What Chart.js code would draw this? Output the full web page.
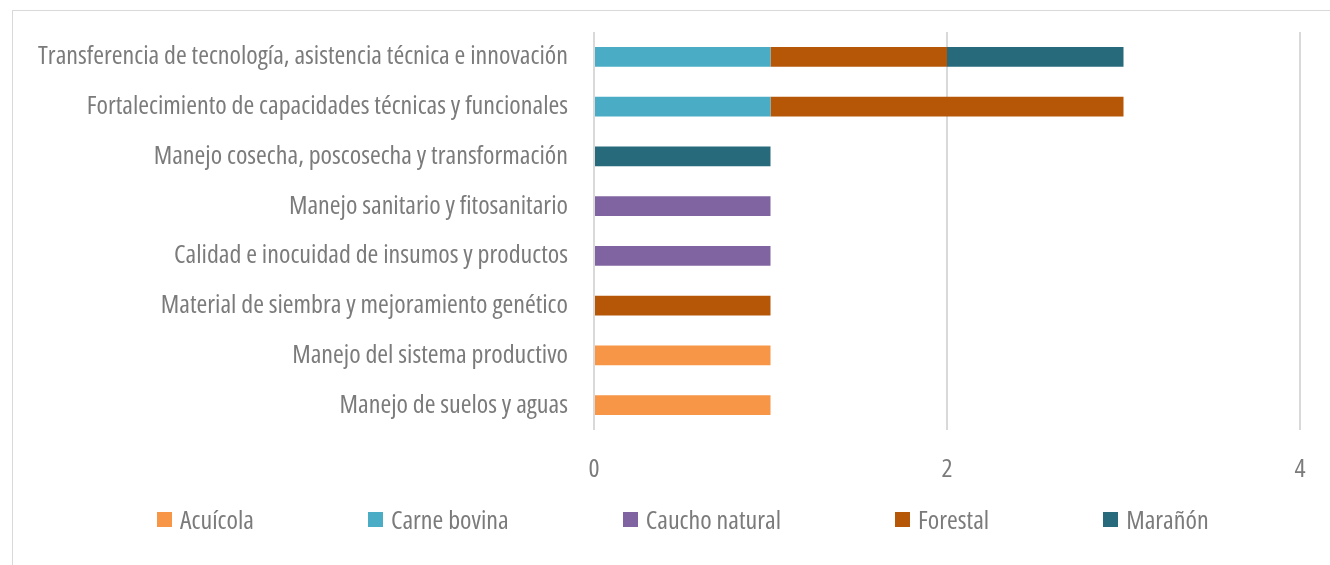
<!DOCTYPE html>
<html>
<head>
<meta charset="utf-8">
<script src="https://cdn.jsdelivr.net/npm/chart.js@4"></script>
<style>
    body { margin: 0; background: #fff; overflow: hidden; }
    .frame {
        position: absolute; left: 12px; top: 10px;
        width: 1340px; height: 600px;
        border: 1px solid #d9d9d9;
    }
    #wrap { position: absolute; left: 0; top: 0; width: 1330px; height: 565px; }
    #legend {
        position: absolute; left: 157px; top: 501px;
        display: flex; gap: 114px; align-items: center;
        font-family: "Open Sans", sans-serif; font-stretch: condensed;
        font-size: 26px; color: #7b7b7b; white-space: nowrap;
    }
    #legend .item { display: flex; align-items: center; }
    #legend .box { width: 15px; height: 15px; margin-right: 8px; }
</style>
</head>
<body>
<div class="frame"></div>
<div id="wrap"><canvas id="chart"></canvas></div>
<div id="legend"></div>
<script>
// categories, top to bottom
const categories = [
    'Transferencia de tecnología, asistencia técnica e innovación',
    'Fortalecimiento de capacidades técnicas y funcionales',
    'Manejo cosecha, poscosecha y transformación',
    'Manejo sanitario y fitosanitario',
    'Calidad e inocuidad de insumos y productos',
    'Material de siembra y mejoramiento genético',
    'Manejo del sistema productivo',
    'Manejo de suelos y aguas'
];

// series values (same order as categories)
const acuicola      = [0, 0, 0, 0, 0, 0, 1, 1];
const carneBovina   = [1, 1, 0, 0, 0, 0, 0, 0];
const cauchoNatural = [0, 0, 0, 1, 1, 0, 0, 0];
const forestal      = [1, 2, 0, 0, 0, 1, 0, 0];
const maranon       = [1, 0, 1, 0, 0, 0, 0, 0];

const seriesNames = ['Acuícola', 'Carne bovina', 'Caucho natural', 'Forestal', 'Marañón'];
const seriesColors = ['#F79646', '#4BACC6', '#8064A2', '#B65708', '#276A7C'];
const seriesValues = [acuicola, carneBovina, cauchoNatural, forestal, maranon];

const xTicks = [0, 2, 4];

const FONT = '"Open Sans", sans-serif';
const TEXT = '#7b7b7b';

const datasets = seriesNames.map((name, i) => ({
    label: name,
    data: seriesValues[i].map(v => v === 0 ? null : v),
    backgroundColor: seriesColors[i],
    borderWidth: 0,
    categoryPercentage: 0.5,
    barPercentage: 0.8
}));

new Chart(document.getElementById('chart'), {
    type: 'bar',
    data: { labels: categories, datasets: datasets },
    options: {
        indexAxis: 'y',
        responsive: true,
        maintainAspectRatio: false,
        animation: false,
        layout: { padding: { top: 32, right: 30, left: 0, bottom: 75 } },
        scales: {
            x: {
                stacked: true,
                min: 0,
                max: 4,
                border: { display: false },
                grid: { color: '#d9d9d9', lineWidth: 2, drawTicks: false },
                afterBuildTicks: (scale) => { scale.ticks = xTicks.map(v => ({ value: v })); },
                afterFit: (scale) => { scale.height = 60; },
                ticks: {
                    color: TEXT,
                    // 'condensed' goes into the font string -> Open Sans condensed width
                    font: { family: FONT, size: 26, weight: 'condensed' },
                    padding: 24
                }
            },
            y: {
                stacked: true,
                border: { display: false },
                grid: { display: false, drawTicks: false },
                afterFit: (scale) => {
                    scale.width = 594;
                    scale.paddingTop = 0;
                    scale.paddingBottom = 0;
                },
                ticks: {
                    color: TEXT,
                    font: { family: FONT, size: 26, weight: 'condensed' },
                    padding: 26
                }
            }
        },
        plugins: {
            legend: { display: false },
            tooltip: { enabled: false }
        }
    }
});

// legend (html, same names/colours as the datasets)
const legendEl = document.getElementById('legend');
seriesNames.forEach((name, i) => {
    const item = document.createElement('div');
    item.className = 'item';
    item.innerHTML = `<span class="box" style="background:${seriesColors[i]}"></span><span>${name}</span>`;
    legendEl.appendChild(item);
});
</script>
</body>
</html>
